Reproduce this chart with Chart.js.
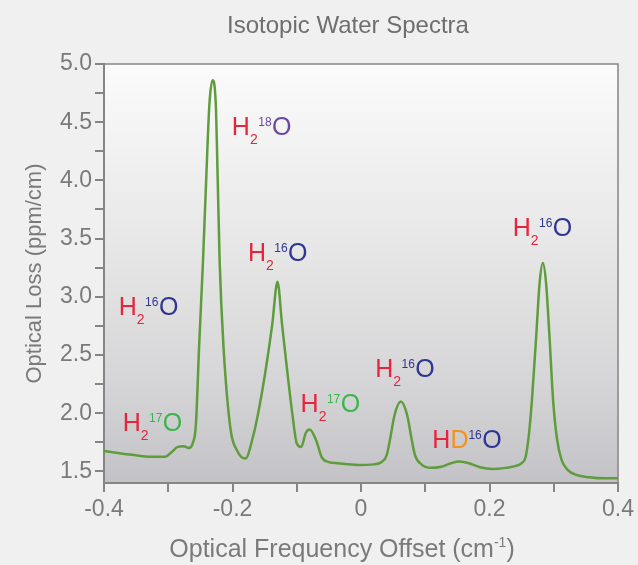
<!DOCTYPE html>
<html>
<head>
<meta charset="utf-8">
<script src="https://cdn.jsdelivr.net/npm/chart.js@4.4.0/dist/chart.umd.min.js"></script>
<style>
  html, body { margin: 0; padding: 0; background: #f0f0f0; }
  #wrap { width: 638px; height: 565px; }
</style>
</head>
<body>
<div id="wrap"><canvas id="spectrum"></canvas></div>
<script>
// spectrum (cm-1 offset, ppm/cm)
const freq = [-0.400, -0.360, -0.325, -0.305, -0.295, -0.285, -0.276, -0.268, -0.262, -0.257,
  -0.252, -0.246, -0.241, -0.236, -0.231, -0.226, -0.223, -0.220, -0.214, -0.203,
  -0.193, -0.180, -0.168, -0.158, -0.147, -0.138, -0.130, -0.123, -0.115, -0.107,
  -0.100, -0.093, -0.086, -0.080, -0.070, -0.061, -0.050, -0.036, -0.005, 0.020,
  0.032, 0.040, 0.046, 0.052, 0.062, 0.072, 0.078, 0.084, 0.094, 0.108,
  0.125, 0.140, 0.153, 0.168, 0.185, 0.205, 0.225, 0.240, 0.250, 0.256,
  0.261, 0.266, 0.273, 0.278, 0.283, 0.288, 0.293, 0.299, 0.305, 0.312,
  0.322, 0.335, 0.355, 0.380, 0.400];
const loss = [1.675, 1.645, 1.625, 1.625, 1.665, 1.71, 1.715, 1.70, 1.74, 1.90,
  2.57, 3.30, 4.00, 4.65, 4.86, 4.65, 4.00, 3.30, 2.57, 1.86,
  1.68, 1.61, 1.80, 2.06, 2.42, 2.77, 3.13, 2.77, 2.37, 2.00,
  1.74, 1.71, 1.83, 1.86, 1.77, 1.62, 1.58, 1.57, 1.555, 1.56,
  1.58, 1.64, 1.80, 1.98, 2.10, 1.98, 1.80, 1.64, 1.56, 1.53,
  1.54, 1.57, 1.585, 1.57, 1.535, 1.52, 1.53, 1.545, 1.57, 1.62,
  1.80, 2.11, 2.69, 3.12, 3.29, 3.12, 2.69, 2.11, 1.78, 1.60,
  1.51, 1.47, 1.45, 1.44, 1.44];

const xMajor = [-0.4, -0.2, 0, 0.2, 0.4];
const xMinor = [-0.3, -0.1, 0.1, 0.3];
const yMajor = [1.5, 2.0, 2.5, 3.0, 3.5, 4.0, 4.5, 5.0];
const yMinor = [1.75, 2.25, 2.75, 3.25, 3.75, 4.25, 4.75];

// peak annotations: species and where their text starts (data units)
const peakLabels = ["H2 18O", "H2 16O", "H2 16O", "H2 17O", "H2 17O", "H2 16O", "HD 16O", "H2 16O"];
const labelX = [-0.201, -0.176, -0.377, -0.371, -0.094, 0.022, 0.111, 0.236];
const labelY = [4.39, 3.31, 2.84, 1.85, 2.01, 2.31, 1.70, 3.52];

const FONT = '"Liberation Sans", Arial, Helvetica, sans-serif';
const GREY = '#7a7a7a';
const AXIS = '#858585';
const massColor = { '16': '#2f3592', '17': '#3cb44b', '18': '#6a48a4' };

Chart.defaults.font.family = FONT;

const plotBackground = {
  id: 'plotBackground',
  beforeDraw(chart) {
    const { ctx, chartArea: a } = chart;
    ctx.save();
    const g = ctx.createLinearGradient(0, a.top, 0, a.bottom);
    g.addColorStop(0, '#fbfbfb');
    g.addColorStop(0.45, '#e6e6e6');
    g.addColorStop(0.75, '#d6d6d8');
    g.addColorStop(1, '#c3c3c7');
    ctx.fillStyle = g;
    ctx.fillRect(a.left, a.top, a.right - a.left, a.bottom - a.top);
    ctx.restore();
  },
  afterDraw(chart) {
    const { ctx, chartArea: a } = chart;
    ctx.save();
    // frame on top and right
    ctx.strokeStyle = AXIS;
    ctx.lineWidth = 1.5;
    ctx.beginPath();
    ctx.moveTo(a.left, a.top);
    ctx.lineTo(a.right, a.top);
    ctx.lineTo(a.right, a.bottom);
    ctx.stroke();

    // title
    ctx.fillStyle = '#6e6e6e';
    ctx.font = '24px ' + FONT;
    ctx.textAlign = 'center';
    ctx.textBaseline = 'alphabetic';
    ctx.fillText('Isotopic Water Spectra', 348, 33);

    // x axis title with superscript
    const main = 'Optical Frequency Offset (cm';
    ctx.font = '25px ' + FONT;
    const w1 = ctx.measureText(main).width;
    const w3 = ctx.measureText(')').width;
    ctx.font = '14px ' + FONT;
    const w2 = ctx.measureText('-1').width;
    let x = 342 - (w1 + w2 + w3) / 2;
    const base = 557;
    ctx.textAlign = 'left';
    ctx.fillStyle = GREY;
    ctx.font = '25px ' + FONT;
    ctx.fillText(main, x, base);
    x += w1;
    ctx.font = '14px ' + FONT;
    ctx.fillText('-1', x, base - 10);
    x += w2;
    ctx.font = '25px ' + FONT;
    ctx.fillText(')', x, base);
    ctx.restore();
  }
};

const peakText = {
  id: 'peakText',
  afterDatasetsDraw(chart) {
    const { ctx, scales } = chart;
    ctx.save();
    ctx.textAlign = 'left';
    ctx.textBaseline = 'alphabetic';
    peakLabels.forEach((spec, i) => {
      const [hyd, oxy] = spec.split(' ');
      const mass = oxy.slice(0, 2);
      const parts = [{ t: 'H', c: '#e8233c', s: 25, dy: 0 }];
      if (hyd === 'H2') parts.push({ t: '2', c: '#e8233c', s: 14, dy: 9 });
      else parts.push({ t: 'D', c: '#f5921e', s: 25, dy: 0 });
      parts.push({ t: mass, c: massColor[mass], s: 12, dy: -9 });
      parts.push({ t: 'O', c: massColor[mass], s: 25, dy: 0 });
      let x = scales.x.getPixelForValue(labelX[i]);
      const y = scales.y.getPixelForValue(labelY[i]);
      parts.forEach(p => {
        ctx.font = p.s + 'px ' + FONT;
        ctx.fillStyle = p.c;
        ctx.fillText(p.t, x, y + p.dy);
        x += ctx.measureText(p.t).width + (p.s < 20 ? 0.5 : 0);
      });
    });
    ctx.restore();
  }
};

const ctx = document.querySelector('#spectrum').getContext('2d');

const config = {
  type: 'line',
  data: {
    datasets: [{
      data: freq.map((f, i) => ({ x: f, y: loss[i] })),
      borderColor: '#5e9c3c',
      borderWidth: 2.5,
      pointRadius: 0,
      fill: false,
      cubicInterpolationMode: 'monotone'
    }]
  },
  options: {
    responsive: true,
    maintainAspectRatio: false,
    animation: false,
    events: [],
    layout: { padding: { top: 64, right: 16, left: 0, bottom: 0 } },
    plugins: {
      legend: { display: false },
      tooltip: { enabled: false },
      title: { display: false }
    },
    scales: {
      x: {
        type: 'linear',
        min: -0.4,
        max: 0.4,
        afterBuildTicks: (s) => {
          s.ticks = xMajor.concat(xMinor).sort((a, b) => a - b).map(v => ({ value: v }));
        },
        afterFit: (s) => { s.height = 82; },
        grid: { drawOnChartArea: false, tickLength: 9, color: AXIS, lineWidth: 2 },
        border: { color: AXIS, width: 2 },
        ticks: {
          color: GREY,
          font: { size: 23 },
          padding: 4,
          autoSkip: false,
          maxRotation: 0,
          callback: (v) => xMajor.includes(v) ? (v === 0 ? '0' : v.toFixed(1)) : ''
        }
      },
      y: {
        min: 1.4,
        max: 5.0,
        afterBuildTicks: (s) => {
          s.ticks = yMajor.concat(yMinor).sort((a, b) => a - b).map(v => ({ value: v }));
        },
        afterFit: (s) => { s.width = 104; },
        grid: { drawOnChartArea: false, tickLength: 9, color: AXIS, lineWidth: 2 },
        border: { color: AXIS, width: 2 },
        ticks: {
          color: GREY,
          font: { size: 23 },
          padding: 3,
          autoSkip: false,
          callback: (v) => yMajor.includes(v) ? v.toFixed(1) : ''
        },
        title: {
          display: true,
          text: 'Optical Loss (ppm/cm)',
          color: GREY,
          font: { size: 22 },
          padding: { top: 22, bottom: 0 }
        }
      }
    }
  },
  plugins: [plotBackground, peakText]
};

const spectrumChart = new Chart(ctx, config);
</script>
</body>
</html>
